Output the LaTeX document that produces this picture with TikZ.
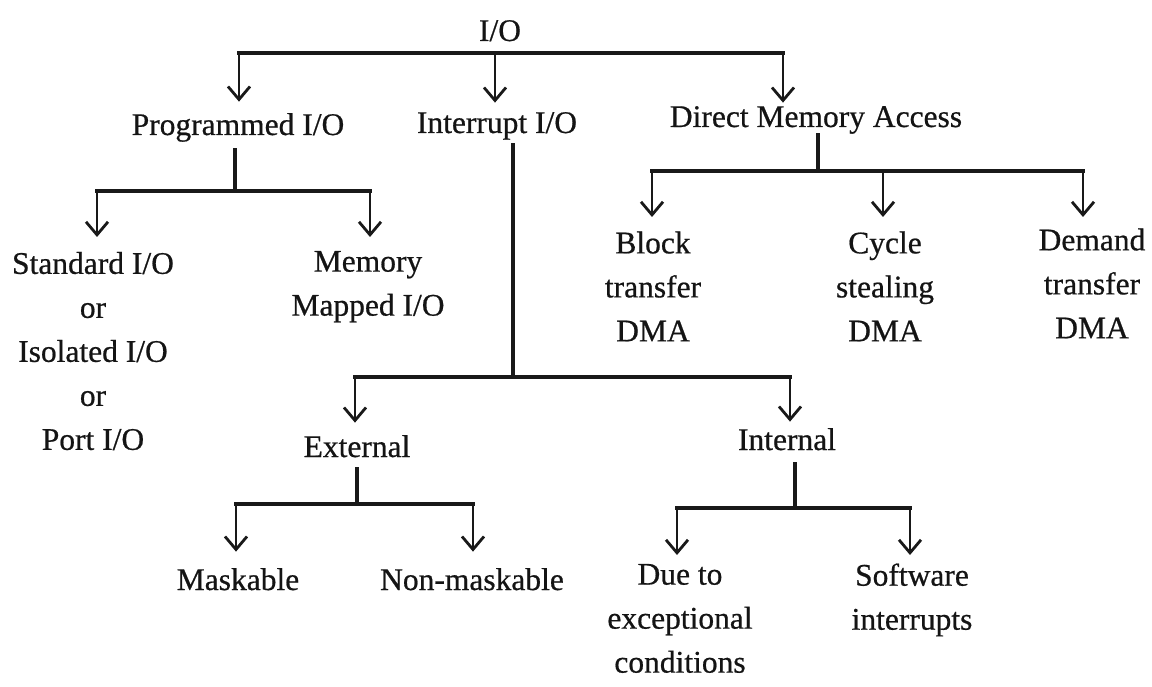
\documentclass[tikz,border=0pt]{standalone}
\usepackage{fontspec}
\setmainfont{Liberation Serif}
\newfontfamily\heavyserif{Liberation Serif}[FakeBold=0.6]
\usetikzlibrary{arrows.meta}
\tikzset{
  lbl/.style={inner sep=0pt, outer sep=0pt, font=\heavyserif\fontsize{31.5}{44}\selectfont, align=center, text=black!92},
  ln/.style={line width=3.2pt, line cap=rect, draw=black!90},
  arr/.style={line width=2.8pt, draw=black!90, -{Straight Barb[length=13pt,width=22pt,line width=2.8pt]}},
}
\begin{document}
\begin{tikzpicture}[x=1pt,y=-1pt]
\useasboundingbox[fill=white] (0,0) rectangle (1152,687);
% labels
\node[lbl,anchor=base] (io) at (500,41) {I/O};
\node[lbl,anchor=base] (prog) at (238,135) {Programmed I/O};
\node[lbl,anchor=base] (intr) at (497,133) {Interrupt I/O};
\node[lbl,anchor=base] (dma) at (816,127) {Direct Memory Access};
\node[lbl,anchor=north] (std) at (93,252) {Standard I/O\\or\\Isolated I/O\\or\\Port I/O};
\node[lbl,anchor=north] (mem) at (368,251) {Memory\\Mapped I/O};
\node[lbl,anchor=north] (blk) at (653,231.5) {Block\\transfer\\DMA};
\node[lbl,anchor=north] (cyc) at (885,231.5) {Cycle\\stealing\\DMA};
\node[lbl,anchor=north] (dem) at (1092,228.5) {Demand\\transfer\\DMA};
\node[lbl,anchor=base] (ext) at (357,457) {External};
\node[lbl,anchor=base] (int) at (787,450) {Internal};
\node[lbl,anchor=base] (msk) at (238,590) {Maskable};
\node[lbl,anchor=base] (nmk) at (472,590) {Non-maskable};
\node[lbl,anchor=north] (due) at (680,564) {Due to\\exceptional\\conditions};
\node[lbl,anchor=north] (sw) at (912,563.5) {Software\\interrupts};
% junctions
\coordinate (t1) at (239,53);
\coordinate (t2) at (495,53);
\coordinate (t3) at (783,53);
\coordinate (pj) at (235,191);
\coordinate (p1) at (97,191);
\coordinate (p2) at (370,191);
\coordinate (dj) at (818,171);
\coordinate (d1) at (652,171);
\coordinate (d2) at (883,171);
\coordinate (d3) at (1083,171);
\coordinate (ij) at (513,377);
\coordinate (i1) at (355,377);
\coordinate (i2) at (790,377);
\coordinate (ej) at (357,504);
\coordinate (e1) at (236,504);
\coordinate (e2) at (473,504);
\coordinate (nj) at (795,508);
\coordinate (n1) at (677,508);
\coordinate (n2) at (910,508);
% top level
\draw[ln] (t1) -- (t3);
\draw[arr,shorten >=11.5pt] (t1) -- (t1 |- prog.north);
\draw[arr,shorten >=9.5pt] (t2) -- (t2 |- intr.north);
\draw[arr,shorten >=3.5pt] (t3) -- (t3 |- dma.north);
% programmed
\draw[ln,shorten <=8pt] (pj |- prog.south) -- (pj);
\draw[ln] (p1) -- (p2);
\draw[arr,shorten >=15pt] (p1) -- (p1 |- std.north);
\draw[arr,shorten >=14pt] (p2) -- (p2 |- mem.north);
% dma
\draw[ln,shorten <=1pt] (dj |- dma.south) -- (dj);
\draw[ln] (d1) -- (d3);
\draw[arr,shorten >=14.5pt] (d1) -- (d1 |- blk.north);
\draw[arr,shorten >=14.5pt] (d2) -- (d2 |- cyc.north);
\draw[arr,shorten >=11.5pt] (d3) -- (d3 |- dem.north);
% interrupt
\draw[ln,shorten <=5pt] (ij |- intr.south) -- (ij);
\draw[ln] (i1) -- (i2);
\draw[arr,shorten >=12.5pt] (i1) -- (i1 |- ext.north);
\draw[arr,shorten >=6.5pt] (i2) -- (i2 |- int.north);
% external
\draw[ln,shorten <=11pt] (ej |- ext.south) -- (ej);
\draw[ln] (e1) -- (e2);
\draw[arr,shorten >=16.5pt] (e1) -- (e1 |- msk.north);
\draw[arr,shorten >=16.5pt] (e2) -- (e2 |- nmk.north);
% internal
\draw[ln,shorten <=13pt] (nj |- int.south) -- (nj);
\draw[ln] (n1) -- (n2);
\draw[arr,shorten >=9pt] (n1) -- (n1 |- due.north);
\draw[arr,shorten >=8.5pt] (n2) -- (n2 |- sw.north);
\end{tikzpicture}
\end{document}
